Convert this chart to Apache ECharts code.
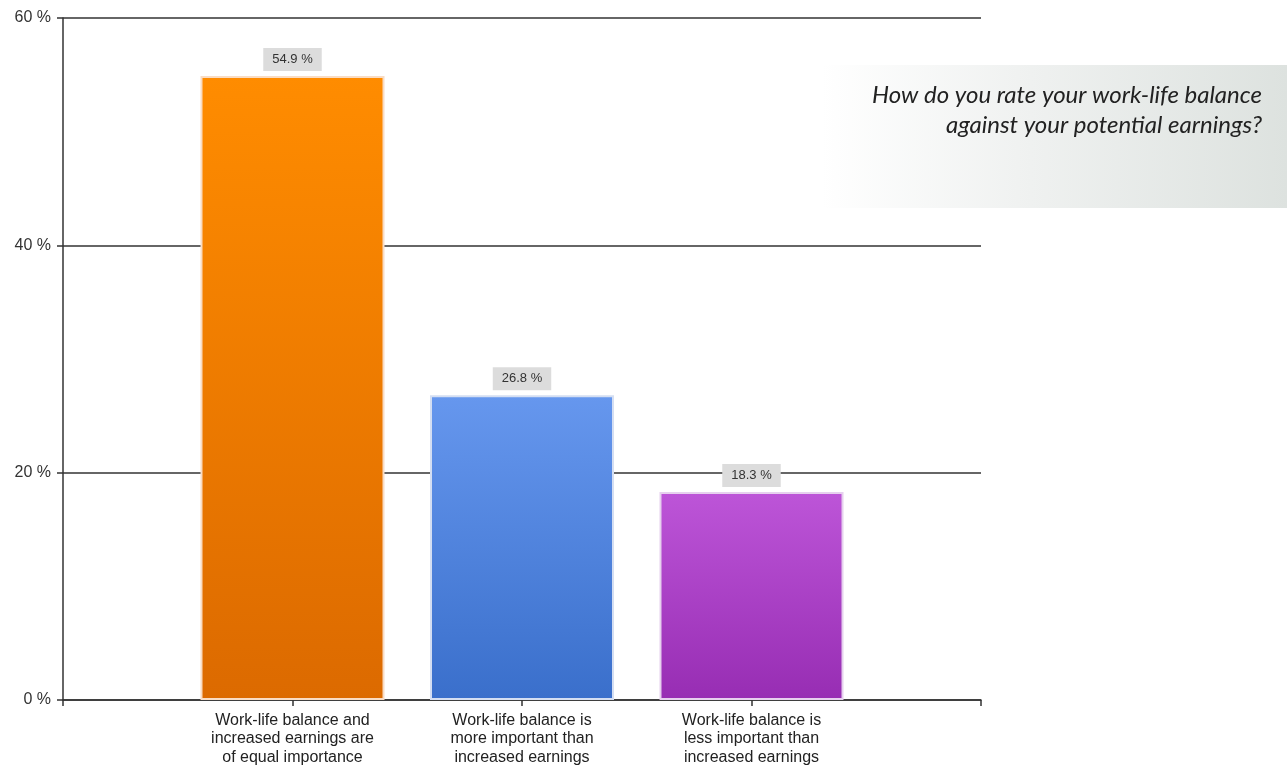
<!DOCTYPE html>
<html>
<head>
<meta charset="utf-8">
<title>Work-life balance vs. earnings</title>
<script src="https://cdn.jsdelivr.net/npm/echarts@6/dist/echarts.min.js"></script>
<style>
  html, body { margin: 0; padding: 0; background: #ffffff; }
  #chart { width: 1287px; height: 776px; }
</style>
</head>
<body>
<div id="chart"></div>
<script>
// Answer categories (padded with empty slots at both ends of the axis)
const categories = [
  '',
  'Work-life balance and\nincreased earnings are\nof equal importance',
  'Work-life balance is\nmore important than\nincreased earnings',
  'Work-life balance is\nless important than\nincreased earnings',
  ''
];
// Share of respondents, percent
const shares = [null, 54.9, 26.8, 18.3, null];
// Y axis tick values
const yTicks = [0, 20, 40, 60];

const questionLines = [
  'How do you rate your work-life balance',
  'against your potential earnings?'
];

// Top/bottom gradient colours and soft edge colour for each bar
const barStyles = [
  null,
  { top: '#ff8c00', bottom: '#dc6a00', edge: '#f9dcc4' },
  { top: '#6697ee', bottom: '#3a6fcb', edge: '#d4def2' },
  { top: '#bd55d8', bottom: '#972db3', edge: '#e6d0ee' },
  null
];

function grad(s) {
  return new echarts.graphic.LinearGradient(0, 0, 0, 1, [
    { offset: 0, color: s.top },
    { offset: 1, color: s.bottom }
  ]);
}

const seriesData = shares.map((v, i) => {
  if (v == null) return '-';
  const s = barStyles[i];
  return {
    value: v,
    itemStyle: { color: grad(s), borderColor: s.edge, borderWidth: 2 }
  };
});

const chart = echarts.init(document.getElementById('chart'), null, { renderer: 'canvas' });

chart.setOption({
  animation: false,
  backgroundColor: '#ffffff',
  grid: { left: 63, right: 306, top: 18, bottom: 76, containLabel: false },
  xAxis: {
    type: 'category',
    data: categories,
    boundaryGap: false,
    axisLine: { show: true, lineStyle: { color: '#333333', width: 1.5 } },
    axisTick: { show: true, length: 6, interval: 0, lineStyle: { color: '#333333', width: 1.5 } },
    axisLabel: {
      interval: 0,
      margin: 11,
      color: '#222222',
      fontFamily: 'Liberation Sans, Arial, sans-serif',
      fontSize: 16,
      lineHeight: 18.5,
      align: 'center'
    },
    splitLine: { show: false }
  },
  yAxis: {
    type: 'value',
    min: yTicks[0],
    max: yTicks[yTicks.length - 1],
    interval: 20,
    axisLine: { show: true, lineStyle: { color: '#333333', width: 1.5 } },
    axisTick: { show: true, length: 6, lineStyle: { color: '#333333', width: 1.5 } },
    axisLabel: {
      formatter: '{value} %',
      color: '#333333',
      fontFamily: 'Liberation Sans, Arial, sans-serif',
      fontSize: 16,
      margin: 12
    },
    splitLine: { show: true, lineStyle: { color: '#333333', width: 1.5 } }
  },
  series: [{
    type: 'bar',
    data: seriesData,
    barWidth: 184,
    z: 3,
    label: {
      show: true,
      position: 'top',
      distance: 5,
      formatter: p => p.value.toFixed(1) + ' %',
      color: '#333333',
      fontFamily: 'Liberation Sans, Arial, sans-serif',
      fontSize: 13,
      backgroundColor: '#dcdcdc',
      padding: [5, 9, 5, 9]
    }
  }],
  graphic: [{
    type: 'group',
    left: 822,
    top: 65,
    children: [
      {
        type: 'rect',
        shape: { x: 0, y: 0, width: 465, height: 143 },
        style: {
          fill: new echarts.graphic.LinearGradient(0, 0, 1, 0, [
            { offset: 0, color: '#ffffff' },
            { offset: 0.45, color: '#eff1f0' },
            { offset: 1, color: '#dde2df' }
          ])
        }
      },
      {
        type: 'text',
        style: {
          x: 440,
          y: 45,
          text: questionLines.join('\n'),
          align: 'right',
          verticalAlign: 'middle',
          fontFamily: 'Lato, "Open Sans", sans-serif',
          fontStyle: 'italic',
          fontSize: 24,
          lineHeight: 30,
          fill: '#222222'
        }
      }
    ]
  }]
});
</script>
</body>
</html>
